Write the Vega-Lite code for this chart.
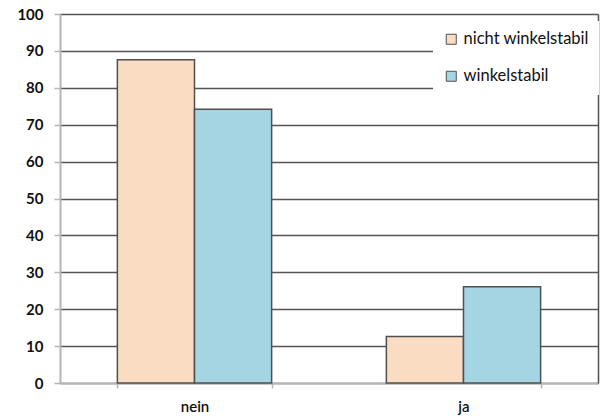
{
  "$schema": "https://vega.github.io/schema/vega-lite/v6.json",
  "width": 538,
  "height": 369,
  "autosize": "none",
  "padding": {"left": 60, "top": 14, "right": 2, "bottom": 36},
  "background": "white",
  "data": {
    "values": [
      {"kategorie": "nein", "serie": "nicht winkelstabil", "wert": 87.6},
      {"kategorie": "nein", "serie": "winkelstabil", "wert": 74.2},
      {"kategorie": "ja", "serie": "nicht winkelstabil", "wert": 12.6},
      {"kategorie": "ja", "serie": "winkelstabil", "wert": 26.1}
    ]
  },
  "encoding": {
    "x": {
      "field": "kategorie",
      "type": "nominal",
      "sort": ["nein", "ja"],
      "scale": {"paddingInner": 0.4265, "paddingOuter": 0.2133},
      "axis": {
        "title": null,
        "labelAngle": 0,
        "labelFont": "Lato",
        "labelFontSize": 15,
        "labelFontWeight": 600,
        "labelColor": "#111",
        "labelPadding": 11,
        "tickBand": "extent",
        "tickColor": "#b5b5b5",
        "tickWidth": 1.5,
        "tickSize": 5,
        "domainColor": "#b5b5b5",
        "domainWidth": 2
      }
    },
    "y": {
      "field": "wert",
      "type": "quantitative",
      "scale": {"domain": [0, 100]}
    }
  },
  "layer": [
    {
      "mark": {"type": "bar", "stroke": "#505050", "strokeWidth": 1.5},
      "encoding": {
        "xOffset": {"field": "serie", "sort": ["nicht winkelstabil", "winkelstabil"]},
        "y": {
          "field": "wert",
          "type": "quantitative",
          "scale": {"domain": [0, 100]},
          "axis": {
            "title": null,
            "values": [0, 10, 20, 30, 40, 50, 60, 70, 80, 90, 100],
            "labelFont": "Lato",
            "labelFontSize": 15,
            "labelFontWeight": "bold",
            "labelColor": "#111",
            "labelPadding": 11,
            "tickColor": "#b5b5b5",
            "tickWidth": 1.5,
            "tickSize": 6,
            "domainColor": "#b5b5b5",
            "domainWidth": 2,
            "grid": true,
            "gridColor": "#555555",
            "gridWidth": 1.6,
            "zindex": 0
          }
        },
        "color": {
          "field": "serie",
          "type": "nominal",
          "sort": ["nicht winkelstabil", "winkelstabil"],
          "scale": {"domain": ["nicht winkelstabil", "winkelstabil"], "range": ["#F9DCC2", "#A5D5E3"]},
          "legend": {
            "title": null,
            "orient": "none",
            "legendX": 373,
            "legendY": 7,
            "padding": 10,
            "fillColor": "white",
            "strokeColor": null,
            "symbolType": "square",
            "symbolSize": 100,
            "symbolStrokeColor": "#505050",
            "symbolStrokeWidth": 1,
            "labelFont": "Lato",
            "labelFontSize": 16.5,
            "labelColor": "#111",
            "labelOffset": 4,
            "rowPadding": 20
          }
        }
      }
    },
    {
      "mark": {"type": "bar", "opacity": 0},
      "encoding": {
        "y": {
          "field": "wert",
          "type": "quantitative",
          "axis": {
            "orient": "right",
            "title": null,
            "labels": false,
            "ticks": false,
            "grid": false,
            "domainColor": "#505050",
            "domainWidth": 1.5
          }
        }
      }
    }
  ],
  "resolve": {"axis": {"y": "independent"}},
  "config": {"view": {"stroke": null}}
}
